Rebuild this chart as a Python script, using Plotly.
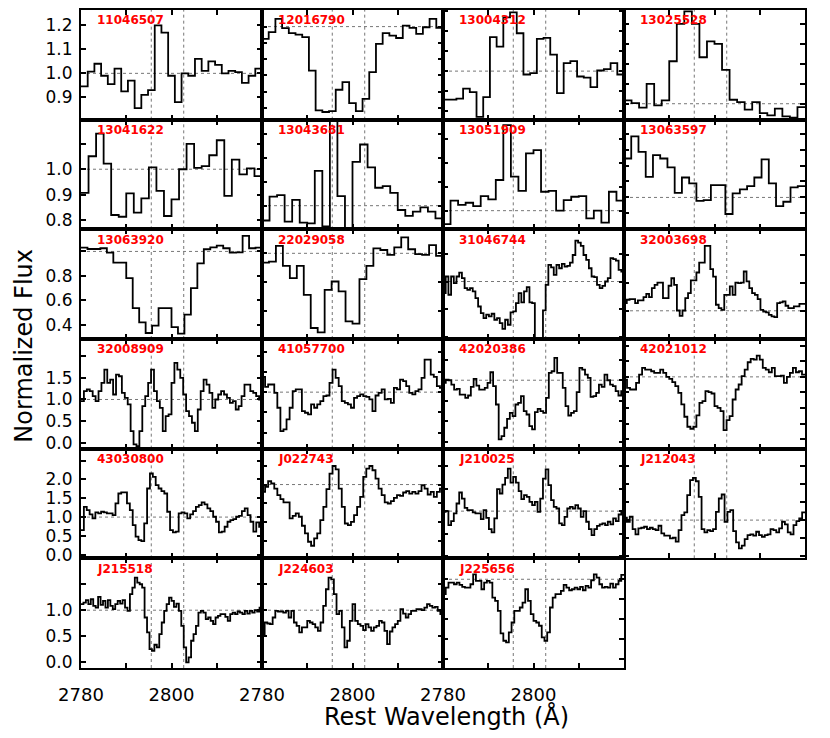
import numpy as np
import plotly.graph_objects as go
from plotly.subplots import make_subplots

# --- data: normalized flux per object (equal bins over 2780-2820 A) ---
flux_11046507 = [0.946, 1.007, 1.04, 0.99, 0.955, 1.02, 0.925, 0.97, 0.855, 0.91, 0.93, 1.2, 1.17, 0.99,
                 0.88, 1.0, 0.99, 1.06, 1.01, 1.05, 1.035, 1.0, 1.01, 1.005, 0.96, 0.99, 1.02]
flux_12016790 = [0.925, 0.966, 1.047, 0.99, 0.96, 0.951, 0.935, 0.73, 0.485, 0.475, 0.48, 0.612, 0.659, 0.53,
                 0.48, 0.556, 0.72, 0.894, 0.96, 0.945, 0.93, 1.006, 0.992, 0.955, 0.996, 1.047, 0.992]
flux_13004312 = [0.857, 0.857, 0.862, 0.912, 0.895, 0.77, 0.87, 1.17, 1.123, 1.27, 1.295, 1.19, 0.983, 0.99,
                 1.162, 1.167, 1.083, 0.89, 1.04, 1.05, 0.973, 0.967, 0.92, 1.003, 1.01, 1.04, 0.983]
flux_13025528 = [1.017, 1.003, 0.98, 1.1, 0.992, 1.017, 1.213, 1.4, 1.463, 1.4, 1.233, 1.313, 1.3, 1.17,
                 1.02, 1.008, 0.97, 1.008, 0.953, 0.942, 0.975, 0.937, 0.93, 0.983]
flux_13041622 = [0.907, 1.051, 1.14, 1.022, 0.82, 0.813, 0.905, 0.829, 0.885, 1.007, 0.915, 0.816, 0.881, 1.0,
                 1.1, 1.005, 1.012, 1.055, 1.114, 0.895, 1.038, 0.98, 1.003, 0.973]
flux_13043681 = [0.938, 1.038, 1.044, 0.933, 1.024, 0.929, 0.926, 1.146, 0.913, 1.40, 1.04, 0.89, 1.183, 1.256,
                 1.16, 1.075, 1.082, 1.054, 0.982, 0.957, 0.975, 0.993, 0.975, 0.947]
flux_13051909 = [0.944, 1.042, 1.024, 1.033, 1.019, 1.061, 1.047, 1.128, 1.357, 1.142, 1.083, 1.239, 1.253, 1.079,
                 1.083, 1.0, 1.044, 1.058, 1.061, 0.968, 1.0, 0.95, 1.079, 1.042]
flux_13063597 = [1.244, 1.383, 1.285, 1.129, 1.265, 1.244, 1.188, 1.029, 1.125, 1.088, 0.979, 0.983, 1.077, 1.077,
                 0.896, 1.025, 1.05, 1.071, 1.125, 1.238, 1.088, 0.946, 0.973, 1.063, 1.071]
flux_13063920 = [1.031, 1.02, 1.02, 1.026, 0.99, 0.909, 0.909, 0.781, 0.536, 0.419, 0.332, 0.392, 0.536, 0.536,
                 0.381, 0.327, 0.482, 0.699, 0.903, 1.018, 1.034, 1.048, 1.026, 0.99, 0.993, 1.127, 1.026, 1.031]
flux_22029058 = [0.936, 0.943, 1.051, 0.913, 0.828, 0.913, 0.713, 0.483, 0.453, 0.747, 0.805, 0.736, 0.529, 0.513,
                 0.821, 0.913, 1.034, 1.023, 0.989, 1.041, 1.11, 1.028, 0.995, 0.989, 1.057, 0.982]
flux_31046744 = [0.917, 1.036, 0.905, 1.036, 0.988, 1.036, 1.064, 1.024, 0.952, 0.94, 0.952, 0.929, 0.881, 0.821,
                 0.774, 0.738, 0.762, 0.75, 0.769, 0.726, 0.738, 0.702, 0.66, 0.726, 0.69, 0.779, 0.786, 0.845,
                 0.917, 0.85, 0.929, 0.96, 0.85, 0.845, 0.57, 0.57, 0.57, 0.793, 0.976, 1.119, 1.102, 1.048,
                 1.119, 1.095, 1.126, 1.107, 1.112, 1.136, 1.19, 1.293, 1.279, 1.255, 1.19, 1.155, 1.095, 1.036,
                 1.031, 0.976, 0.952, 0.969, 1.0, 1.024, 1.167, 1.16, 1.15, 1.083, 1.071]
flux_32003698 = [1.055, 1.079, 1.083, 1.083, 1.055, 1.074, 1.074, 1.098, 1.121, 1.098, 1.162, 1.186, 1.202, 1.202,
                 1.09, 1.09, 1.179, 1.233, 1.186, 1.002, 0.964, 1.002, 1.09, 1.126, 1.217, 1.217, 1.274, 1.345,
                 1.345, 1.464, 1.464, 1.298, 1.245, 1.043, 1.019, 1.007, 1.114, 1.114, 1.174, 1.114, 1.202, 1.198,
                 1.202, 1.281, 1.21, 1.162, 1.126, 1.114, 1.083, 1.007, 0.995, 0.988, 0.971, 0.96, 0.955, 1.055,
                 1.06, 1.067, 1.036, 1.019, 1.019, 1.031, 1.031, 1.05, 1.05]
flux_32008909 = [0.962, 1.192, 1.231, 1.192, 1.077, 0.962, 1.192, 1.385, 1.692, 1.385, 1.462, 1.115, 1.577, 1.538,
                 1.154, 1.038, 0.885, 0.269, -0.038, -0.077, 0.269, 0.846, 1.077, 1.385, 1.692, 1.192, 0.962, 0.808,
                 0.269, 0.615, 0.654, 1.385, 1.846, 1.692, 1.5, 1.115, 0.731, 0.615, 0.462, 0.269, 0.769, 1.192,
                 1.462, 1.346, 1.154, 0.808, 1.0, 1.115, 1.192, 1.115, 1.038, 0.923, 0.962, 0.769, 0.846, 1.077,
                 1.346, 1.346, 1.192, 1.154, 1.077, 1.0]
flux_41057700 = [1.377, 1.131, 1.189, 1.189, 0.984, 0.615, 0.041, 0.082, 0.328, 0.615, 1.025, 1.066, 1.066, 0.533,
                 0.492, 0.451, 0.697, 0.615, 0.697, 0.779, 0.902, 0.918, 1.23, 1.557, 1.352, 1.148, 0.779, 0.738,
                 0.697, 0.615, 0.861, 0.902, 0.943, 0.902, 0.885, 0.82, 0.533, 0.918, 0.984, 1.066, 0.82, 0.836,
                 0.738, 1.107, 1.066, 1.311, 1.27, 1.148, 0.984, 0.943, 1.025, 1.066, 1.352, 1.803, 1.803, 1.434,
                 1.377, 1.148, 1.107]
flux_42020386 = [0.935, 1.016, 1.0, 0.895, 0.774, 0.79, 0.653, 0.653, 0.573, 0.629, 0.839, 1.032, 0.871, 0.774,
                 0.774, 0.815, 0.935, 1.194, 0.855, 0.411, -0.435, -0.355, -0.153, 0.065, 0.21, 0.129, 0.411,
                 0.452, 0.613, 0.25, 0.169, -0.113, -0.194, 0.226, 0.306, 0.25, 0.21, 0.573, 1.177, 1.218, 1.54,
                 1.177, 1.177, 0.815, 0.371, 0.145, 0.21, 0.25, 0.71, 1.298, 1.258, 1.137, 1.056, 0.597, 0.613,
                 0.694, 0.895, 0.839, 1.137, 1.0, 0.895, 0.855, 0.734, 0.629, 0.734]
flux_42021012 = [0.957, 0.824, 0.798, 0.798, 0.904, 1.037, 1.144, 1.117, 1.117, 1.09, 1.064, 1.064, 1.117, 1.064,
                 1.0, 0.968, 0.915, 0.851, 0.745, 0.559, 0.362, 0.202, 0.17, 0.202, 0.383, 0.585, 0.612, 0.771,
                 0.755, 0.734, 0.532, 0.505, 0.452, 0.149, 0.309, 0.372, 0.638, 0.798, 0.878, 1.011, 1.117, 1.234,
                 1.287, 1.277, 1.34, 1.277, 1.144, 1.117, 1.074, 1.144, 1.011, 1.011, 1.021, 0.904, 1.0, 1.064,
                 1.144, 1.074, 1.09, 1.037]
flux_43030800 = [0.655, 1.274, 1.186, 1.071, 0.965, 1.124, 1.097, 1.142, 1.124, 1.097, 1.097, 1.053, 1.363, 1.628,
                 1.655, 1.655, 1.363, 1.186, 0.788, 0.478, 0.389, 0.363, 0.832, 1.761, 2.159, 2.071, 1.85, 1.761,
                 1.69, 1.628, 1.142, 0.655, 0.593, 0.611, 1.097, 1.124, 1.097, 0.965, 1.071, 1.159, 1.274, 1.319,
                 1.389, 1.336, 1.23, 1.159, 1.009, 0.876, 0.593, 0.611, 0.743, 0.876, 0.92, 0.947, 1.009, 1.035,
                 1.159, 1.23, 1.053, 0.876, 0.611, 0.858, 0.743]
flux_J022743 = [0.923, 0.975, 1.035, 1.011, 0.958, 0.888, 0.846, 0.811, 0.811, 0.642, 0.67, 0.695, 0.66, 0.565,
                0.484, 0.396, 0.354, 0.432, 0.484, 0.625, 0.765, 0.951, 1.116, 1.196, 1.161, 0.958, 0.765, 0.589,
                0.572, 0.607, 0.677, 0.765, 0.87, 1.081, 1.168, 1.196, 1.151, 1.063, 0.958, 0.888, 0.811, 0.8,
                0.825, 0.86, 0.888, 0.881, 0.916, 0.93, 0.905, 0.923, 0.905, 0.93, 0.993, 0.958, 0.895, 0.923,
                0.87, 0.923, 0.958]
flux_J210025 = [0.985, 1.0, 0.691, 0.779, 0.949, 1.169, 1.412, 1.279, 1.074, 1.022, 1.022, 0.971, 0.949, 0.949,
                0.824, 1.022, 0.853, 0.603, 0.529, 0.838, 1.485, 1.39, 1.588, 1.735, 1.941, 1.632, 1.757, 1.632,
                1.441, 1.265, 1.353, 1.316, 1.206, 1.132, 1.206, 0.985, 1.279, 1.721, 1.926, 1.574, 1.243, 1.096,
                1.059, 0.728, 0.691, 0.875, 1.059, 1.096, 1.059, 1.132, 1.059, 0.875, 1.0, 0.765, 0.603, 0.471,
                0.603, 0.676, 0.706, 0.728, 0.691, 0.765, 0.706, 0.838, 0.779, 0.926, 0.971]
flux_J212043 = [1.065, 0.954, 1.093, 0.75, 0.602, 0.769, 0.787, 0.815, 0.75, 0.787, 0.75, 0.722, 0.843, 0.63,
                0.565, 0.565, 0.491, 0.509, 0.398, 0.722, 1.139, 1.213, 1.694, 2.111, 2.176, 2.083, 1.648, 0.75,
                0.657, 0.722, 0.694, 0.75, 1.231, 1.602, 1.713, 0.954, 1.231, 1.278, 0.694, 0.38, 0.213, 0.287,
                0.472, 0.583, 0.602, 0.565, 0.676, 0.583, 0.537, 0.583, 0.602, 0.75, 0.722, 0.657, 0.769, 0.954,
                0.88, 0.657, 0.602, 0.861, 0.972, 1.046, 1.213]
flux_J215518 = [1.115, 1.146, 1.191, 1.115, 1.21, 1.083, 1.051, 1.255, 1.102, 1.178, 1.051, 1.191, 1.083, 1.019,
                1.115, 1.178, 1.127, 1.191, 1.051, 0.987, 1.306, 1.433, 1.624, 1.529, 1.497, 1.433, 0.86, 0.573,
                0.255, 0.223, 0.338, 0.287, 0.541, 0.764, 0.987, 1.115, 1.242, 1.178, 1.064, 1.127, 0.987, 0.701,
                0.287, 0.0, 0.096, 0.414, 0.541, 0.701, 0.955, 0.987, 0.955, 0.828, 0.86, 0.796, 0.732, 0.86,
                0.892, 0.924, 0.924, 0.873, 0.796, 0.924, 0.955, 0.924, 0.975, 0.955, 0.924, 0.987, 0.936, 0.987,
                0.955, 1.0, 0.975, 1.051]
flux_J224603 = [0.541, 0.764, 0.745, 0.732, 0.86, 0.987, 0.975, 0.975, 0.955, 0.987, 0.86, 0.987, 0.764, 0.701,
                0.573, 0.669, 0.669, 0.796, 0.764, 0.732, 0.669, 0.605, 0.764, 1.083, 1.401, 1.624, 1.592, 1.306,
                0.924, 0.987, 0.669, 0.287, 0.414, 0.796, 1.115, 0.796, 0.732, 0.701, 0.618, 0.732, 0.669, 0.605,
                0.669, 0.701, 0.796, 0.764, 0.605, 0.35, 0.592, 0.669, 0.732, 0.796, 1.019, 0.936, 0.86, 0.924,
                0.987, 0.987, 1.019, 1.019, 1.0, 1.051, 1.115, 1.083, 1.051, 1.064, 0.987, 0.924]
flux_J225656 = [0.8125, 0.896, 0.958, 0.958, 0.9375, 0.958, 0.929, 0.904, 0.896, 0.896, 0.9375, 1.0625, 0.979,
                0.979, 0.875, 0.958, 0.979, 0.958, 0.771, 0.729, 0.604, 0.321, 0.229, 0.208, 0.333, 0.458, 0.604,
                0.604, 0.646, 0.708, 0.875, 0.729, 0.5625, 0.479, 0.458, 0.417, 0.271, 0.229, 0.333, 0.646, 0.771,
                0.8125, 0.8125, 0.854, 0.929, 0.896, 0.8625, 0.875, 0.896, 0.875, 0.904, 0.8625, 0.917, 0.896,
                0.9875, 1.0625, 1.021, 0.9375, 0.896, 0.904, 0.896, 0.946, 0.896, 0.9375, 0.979, 1.054]

names = ['11046507', '12016790', '13004312', '13025528', '13041622', '13043681', '13051909', '13063597',
         '13063920', '22029058', '31046744', '32003698', '32008909', '41057700', '42020386', '42021012',
         '43030800', 'J022743', 'J210025', 'J212043', 'J215518', 'J224603', 'J225656']
spectra = [flux_11046507, flux_12016790, flux_13004312, flux_13025528, flux_13041622, flux_13043681,
           flux_13051909, flux_13063597, flux_13063920, flux_22029058, flux_31046744, flux_32003698,
           flux_32008909, flux_41057700, flux_42020386, flux_42021012, flux_43030800, flux_J022743,
           flux_J210025, flux_J212043, flux_J215518, flux_J224603, flux_J225656]

wave_min, wave_max = 2780, 2820
mgii_lines = [2795.53, 2802.70]

# axis settings per panel (y range and tick step)
ylims = [(0.807, 1.264), (0.428, 1.102), (0.7565, 1.3065), (0.92, 1.47),
         (0.7635, 1.195), (0.901, 1.36), (0.922, 1.38), (0.8, 1.4875),
         (0.283, 1.181), (0.407, 1.166), (0.588, 1.374), (0.798, 1.583),
         (-0.138, 2.4), (-0.393, 2.31), (-0.66, 2.0), (-0.149, 1.606),
         (-0.097, 2.82), (0.221, 1.379), (-0.044, 2.382), (-0.065, 2.99),
         (-0.108, 1.994), (-0.108, 1.994), (-0.1125, 1.2625)]
ysteps = [0.1, 0.1, 0.1, 0.1, 0.1, 0.1, 0.1, 0.1, 0.2, 0.2, 0.2, 0.2,
          0.5, 0.5, 0.5, 0.25, 0.5, 0.2, 0.5, 0.5, 0.5, 0.5, 0.25]

font = 'DejaVu Sans'
specs = [[{} for _ in range(4)] for _ in range(6)]
specs[5][3] = None
fig = make_subplots(rows=6, cols=4, horizontal_spacing=0, vertical_spacing=0, specs=specs)

for k, (name, flux) in enumerate(zip(names, spectra)):
    row, col = k // 4 + 1, k % 4 + 1
    edges = np.linspace(wave_min, wave_max, len(flux) + 1)
    fig.add_trace(go.Scatter(x=edges, y=list(flux) + [flux[-1]], mode='lines', line_shape='hv',
                             line=dict(color='black', width=1.8), showlegend=False, hoverinfo='skip'),
                  row=row, col=col)

    ax = '' if k == 0 else str(k + 1)
    for w in mgii_lines:
        fig.add_shape(type='line', xref='x' + ax, yref='y' + ax + ' domain', x0=w, x1=w, y0=0, y1=1,
                      line=dict(color='#777', width=1, dash='dot'), layer='below')
    fig.add_shape(type='line', xref='x' + ax + ' domain', yref='y' + ax, x0=0, x1=1, y0=1, y1=1,
                  line=dict(color='#777', width=1, dash='dot'), layer='below')
    fig.add_annotation(text='<b>' + name + '</b>', xref='x' + ax + ' domain', yref='y' + ax + ' domain',
                       x=0.075, y=0.905, xanchor='left', yanchor='middle', showarrow=False,
                       font=dict(family=font, size=12, color='#ff0000'))

    lo, hi = ylims[k]
    step = ysteps[k]
    yt = np.round(np.arange(np.ceil(lo / step) * step, hi, step), 3) + 0.0
    if col == 1:
        ytxt = [f'{abs(v):.1f}' if abs(v) < 1e-9 else f'{v:.1f}' for v in yt]
        if row > 1:
            ytxt[-1] = ''
    else:
        ytxt = ['' for v in yt]
    fig.update_yaxes(range=[lo, hi], tickvals=yt, ticktext=ytxt, showticklabels=(col == 1),
                     row=row, col=col)

    xt = [2780, 2790, 2800, 2810, 2820]
    xtxt = ['2780', '', '2800', '', ''] if row == 6 else [''] * 5
    fig.update_xaxes(range=[wave_min, wave_max], tickvals=xt, ticktext=xtxt,
                     showticklabels=(row == 6), row=row, col=col)

fig.update_xaxes(showline=True, linecolor='black', linewidth=2, mirror='ticks', ticks='inside',
                 ticklen=5, tickwidth=1.5, tickcolor='black', showgrid=False, zeroline=False,
                 tickfont=dict(family=font, size=18, color='black'), ticklabelstandoff=9)
fig.update_yaxes(showline=True, linecolor='black', linewidth=2, mirror='ticks', ticks='inside',
                 ticklen=5, tickwidth=1.5, tickcolor='black', showgrid=False, zeroline=False,
                 tickfont=dict(family=font, size=17, color='black'), ticklabelstandoff=3)

fig.add_annotation(text='Rest Wavelength (Å)', xref='paper', yref='paper', x=0.505, y=-0.073,
                   xanchor='center', yanchor='middle', showarrow=False,
                   font=dict(family=font, size=24, color='black'))
fig.add_annotation(text='Normalized Flux', xref='paper', yref='paper', x=-0.08, y=0.49,
                   xanchor='center', yanchor='middle', showarrow=False, textangle=-90,
                   font=dict(family=font, size=24, color='black'))

# the page adds an 8px body margin, so the plot area is placed 8px up/left of the target
fig.update_layout(width=830, height=738, margin=dict(l=73, r=33, t=0, b=78),
                  plot_bgcolor='white', paper_bgcolor='white', showlegend=False)

fig.write_html("out.html")
